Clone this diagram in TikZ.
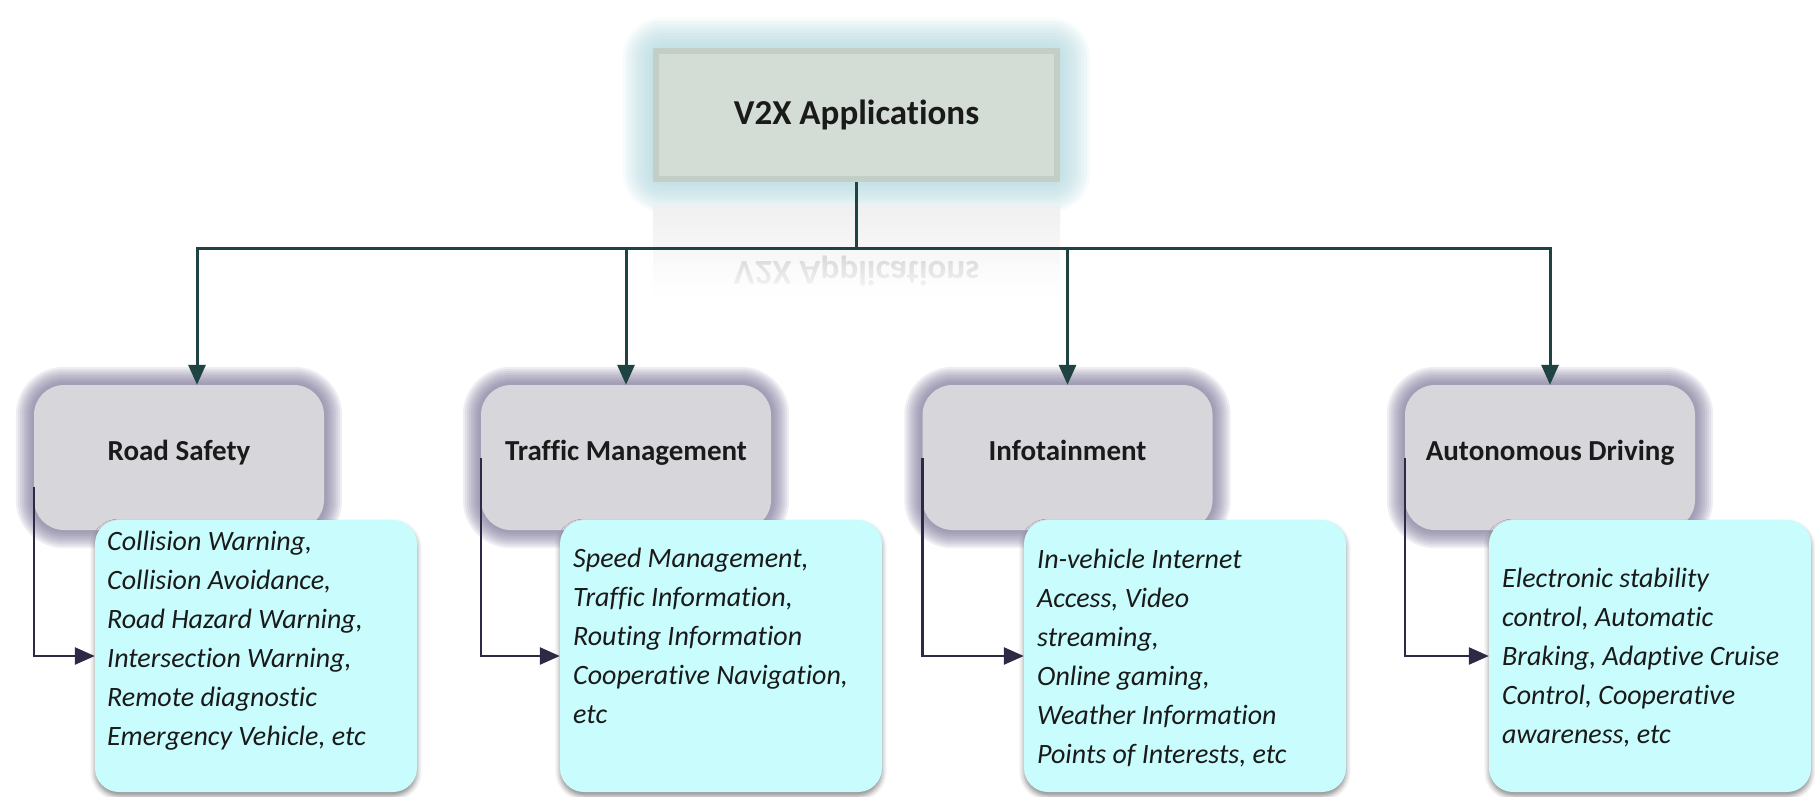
\documentclass[tikz,border=0pt]{standalone}
\usepackage{fontspec}
\setmainfont{Carlito}[Ligatures=NoCommon]
\usetikzlibrary{arrows.meta,calc,shadows.blur,fadings,backgrounds}

\definecolor{titlefill}{HTML}{D3DCD5}
\definecolor{titleedge}{HTML}{C2CEC6}
\definecolor{titleglow}{HTML}{A9D3DB}
\definecolor{catfill}{HTML}{D7D6DB}
\definecolor{catglow}{HTML}{6F6A8E}
\definecolor{detfill}{HTML}{C9FCFC}
\definecolor{busline}{HTML}{1F4242}
\definecolor{elbowline}{HTML}{2D2A46}
\definecolor{inktext}{HTML}{1A1A1A}

\tikzset{
  titlebox/.style={fill=titleedge, minimum width=407pt, minimum height=134pt,
    inner sep=0pt, text=inktext, font=\bfseries\fontsize{35}{40}\selectfont,
    path picture={\fill[titlefill]
      ($(path picture bounding box.north west)+(6,6)$) rectangle
      ($(path picture bounding box.south east)+(-6,-6)$);}},
  catbox/.style={fill=catfill, rounded corners=30pt, minimum width=290pt,
    minimum height=145pt, inner sep=0pt, text=inktext,
    font=\bfseries\fontsize{29}{34}\selectfont, text height=0.7em, text depth=0.2em},
  detbox/.style={fill=detfill, rounded corners=24pt, minimum width=322pt,
    minimum height=272pt, inner sep=0pt,
    blur shadow={shadow xshift=0pt, shadow yshift=-4pt, shadow opacity=45,
      shadow blur radius=5pt}},
  dettext/.style={anchor=north west, align=left, inner sep=0pt, text=inktext,
    font=\itshape\fontsize{28}{39}\selectfont},
  busseg/.style={draw=busline, line width=3pt},
  busarrow/.style={busseg, -{Triangle[width=17pt,length=20pt]}},
  elbowarrow/.style={draw=elbowline, line width=2.6pt,
    -{Triangle[width=17pt,length=20pt]}}
}

\begin{document}
\begin{tikzpicture}[x=1pt,y=-1pt]
\useasboundingbox (0,0) rectangle (1815,796);

% root
\node[titlebox] (top) at (856.5,115) {V2X Applications};

% categories
\node[catbox] (rs)  at (179,457.5)   {Road Safety};
\node[catbox] (tm)  at (626,457.5)   {Traffic Management};
\node[catbox] (inf) at (1067.5,457.5) {Infotainment};
\node[catbox] (ad)  at (1550,457.5)  {Autonomous Driving};

% detail boxes
\node[detbox] (rsD)  at (256,656)  {};
\node[detbox] (tmD)  at (721,656)  {};
\node[detbox] (infD) at (1185,656) {};
\node[detbox] (adD)  at (1650,656) {};

\node[dettext] (rsT) at (107,531) {Collision Warning,\\Collision Avoidance,\\Road Hazard Warning,\\Intersection Warning,\\Remote diagnostic\\Emergency Vehicle, etc};
\node[dettext] (tmT) at (573,548) {Speed Management,\\Traffic Information,\\Routing Information\\Cooperative Navigation,\\etc};
\node[dettext] (infT) at (1037,549) {In-vehicle Internet\\Access, Video\\streaming,\\Online gaming,\\Weather Information\\Points of Interests, etc};
\node[dettext] (adT) at (1502,568) {Electronic stability\\control, Automatic\\Braking, Adaptive Cruise\\Control, Cooperative\\awareness, etc};

% glows, bevel reflection
\begin{pgfonlayer}{background}
  \foreach \d in {30,27,...,3}
    \fill[titleglow, fill opacity=0.1, rounded corners=(10+\d)*1pt]
      ($(top.north west)+(-\d,-\d)$) rectangle ($(top.south east)+(\d,\d)$);
  \shade[top color=black!6, bottom color=white]
    (653,205) rectangle (1060,300);
  \node[text=black!15, font=\bfseries\fontsize{35}{40}\selectfont] (topR)
    at (856.5,271) {\scalebox{1}[-1]{V2X Applications}};
  \fill[white, path fading=north] (640,256) rectangle (1075,300);
  \foreach \n in {rs,tm,inf,ad}
    \foreach \d in {18,16,...,2}
      \fill[catglow, fill opacity=0.11, rounded corners=(30+\d)*1pt]
        ($(\n.north west)+(-\d,-\d)$) rectangle ($(\n.south east)+(\d,\d)$);
\end{pgfonlayer}

% root to categories
\coordinate (bus) at (856.5,248);
\draw[busseg] (top.south) -- (bus);
\draw[busarrow] (bus) -| ([xshift=18pt]rs.north);
\draw[busarrow] (bus) -| (tm.north);
\draw[busarrow] (bus) -| (inf.north);
\draw[busarrow] (bus) -| (ad.north);

% categories to details
\draw[elbowarrow] ([yshift=-29pt]rs.west) |- (rsD.west);
\draw[elbowarrow] (tm.west) |- (tmD.west);
\draw[elbowarrow] (inf.west) |- (infD.west);
\draw[elbowarrow] (ad.west) |- (adD.west);
\end{tikzpicture}
\end{document}
